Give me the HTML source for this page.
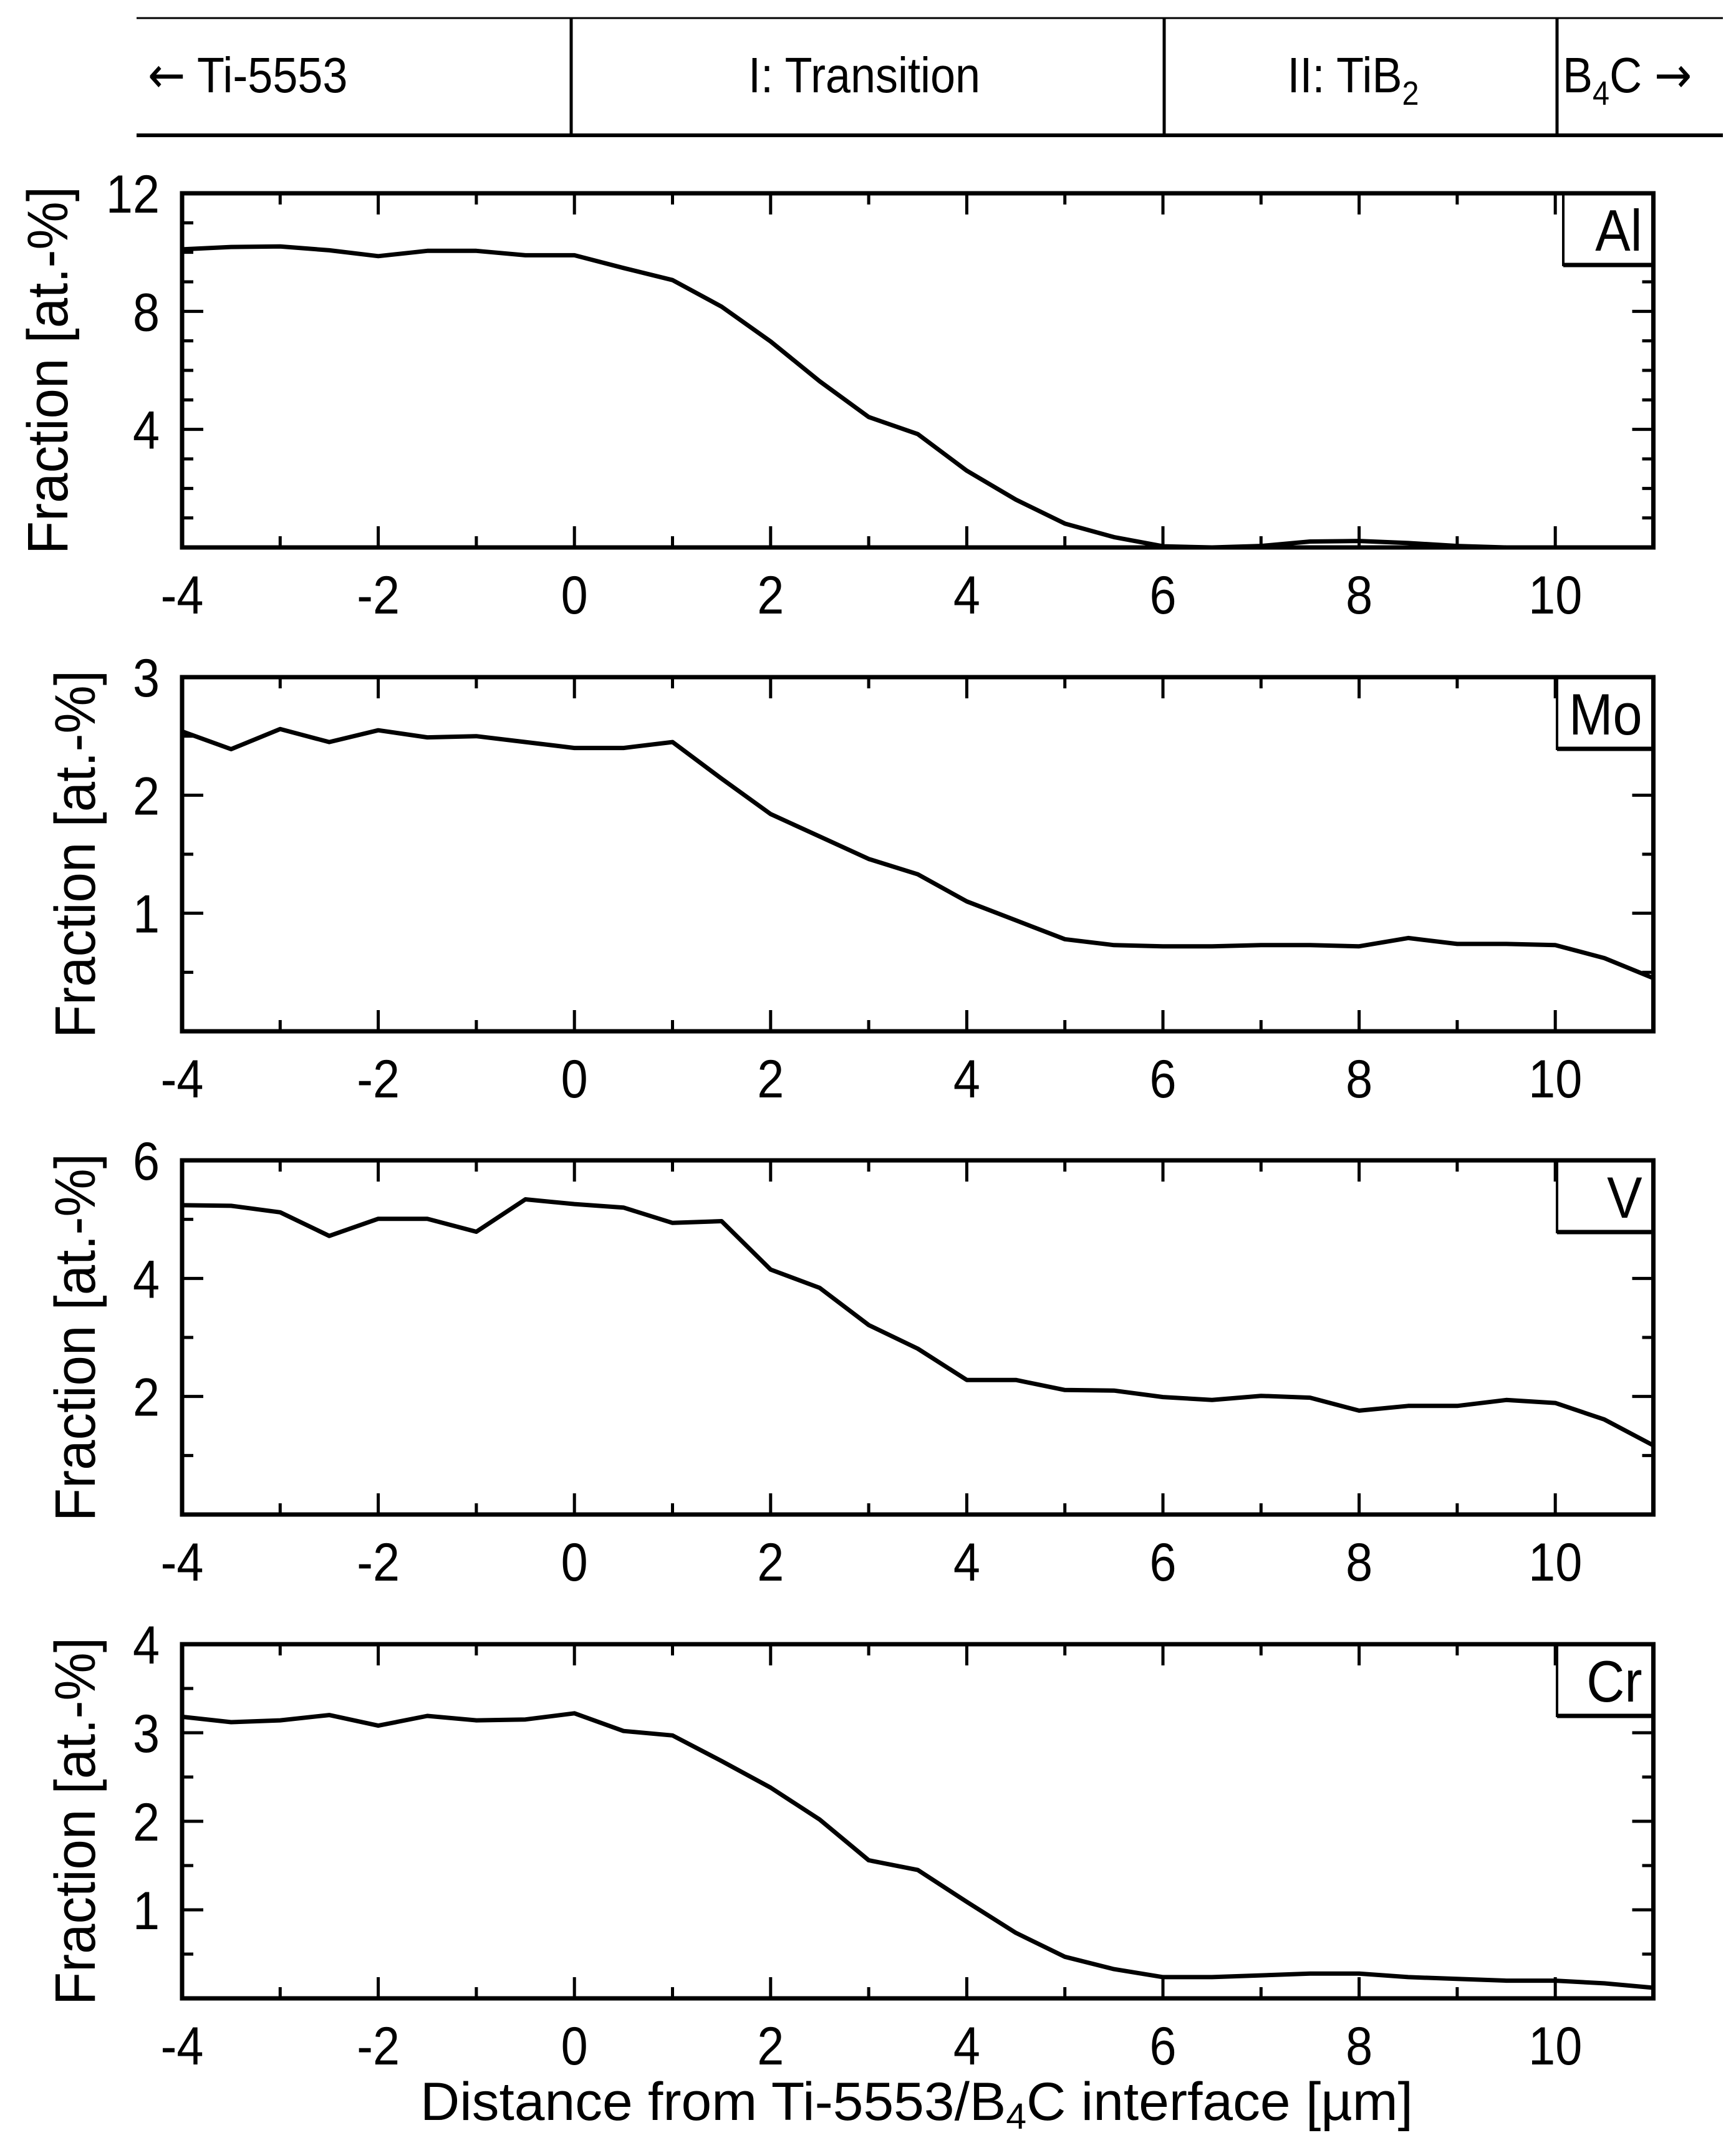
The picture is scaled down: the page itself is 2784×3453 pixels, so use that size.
<!DOCTYPE html>
<html><head><meta charset="utf-8"><style>
html,body{margin:0;padding:0;background:#fff;}
svg{display:block;font-family:"Liberation Sans",Arial,sans-serif;}
</style></head><body>
<svg id="fig" width="2784" height="3453" viewBox="0 0 2784 3453" xmlns="http://www.w3.org/2000/svg">
<rect width="2784" height="3453" fill="#fff"/>
<g>
<line x1="219" y1="29" x2="2763" y2="29" stroke="#000" stroke-width="3"/>
<line x1="219" y1="217" x2="2763" y2="217" stroke="#000" stroke-width="6"/>
<line x1="916" y1="29" x2="916" y2="217" stroke="#000" stroke-width="5"/>
<line x1="1867" y1="29" x2="1867" y2="217" stroke="#000" stroke-width="5"/>
<line x1="2497" y1="29" x2="2497" y2="217" stroke="#000" stroke-width="5"/>
<text transform="translate(237 148) scale(0.9 1)" font-size="80"><tspan font-family="DejaVu Sans">←</tspan> Ti-5553</text>
<text transform="translate(1386 148) scale(0.9 1)" font-size="80" text-anchor="middle">I: Transition</text>
<text transform="translate(2170 148) scale(0.9 1)" font-size="80" text-anchor="middle">II: TiB<tspan font-size="54" dy="20">2</tspan></text>
<text transform="translate(2506 148) scale(0.9 1)" font-size="80">B<tspan font-size="54" dy="20">4</tspan><tspan dy="-20">C </tspan><tspan font-family="DejaVu Sans">→</tspan></text>
</g>
<text x="674" y="3400" font-size="86" textLength="1592" lengthAdjust="spacingAndGlyphs">Distance from Ti-5553/B<tspan font-size="58" dy="14">4</tspan><tspan dy="-14">C interface [µm]</tspan></text>
</svg>
<script>
const xValues = [-4,-3.5,-3,-2.5,-2,-1.5,-1,-0.5,0,0.5,1,1.5,2,2.5,3,3.5,4,4.5,5,5.5,6,6.5,7,7.5,8,8.5,9,9.5,10,10.5,11];
const xTickLabels = [-4,-2,0,2,4,6,8,10];
const alValues = [10.1,10.18,10.2,10.07,9.87,10.05,10.05,9.9,9.9,9.47,9.06,8.16,6.98,5.63,4.42,3.84,2.6,1.62,0.81,0.35,0.04,0.0,0.05,0.2,0.22,0.15,0.05,0.0,0.0,0.0,0.0];
const moValues = [2.54,2.39,2.56,2.45,2.55,2.49,2.50,2.45,2.40,2.40,2.45,2.14,1.84,1.65,1.46,1.33,1.10,0.94,0.78,0.73,0.72,0.72,0.73,0.73,0.72,0.79,0.74,0.74,0.73,0.62,0.45];
const vValues = [5.24,5.23,5.12,4.72,5.01,5.01,4.79,5.34,5.26,5.20,4.94,4.97,4.15,3.84,3.21,2.81,2.28,2.28,2.11,2.10,1.99,1.94,2.01,1.98,1.76,1.84,1.84,1.94,1.89,1.61,1.17];
const crValues = [3.18,3.12,3.14,3.20,3.08,3.19,3.14,3.15,3.22,3.02,2.97,2.68,2.38,2.02,1.56,1.45,1.09,0.74,0.47,0.33,0.24,0.24,0.26,0.28,0.28,0.24,0.22,0.20,0.20,0.17,0.12];
const alTicks = [4,8,12];
const moTicks = [1,2,3];
const vTicks = [2,4,6];
const crTicks = [1,2,3,4];

const NS = "http://www.w3.org/2000/svg";
const svg = document.getElementById('fig');
const X0 = 292, XU = 157.3, XMIN = -4, XMAX = 11;
const xScale = v => X0 + (v - XMIN) * XU;
function mk(tag, attrs, parent) {
  const e = document.createElementNS(NS, tag);
  for (const k in attrs) e.setAttribute(k, attrs[k]);
  parent.appendChild(e);
  return e;
}
const panels = [
  {name:'al', label:'Al', top:310, ymax:12, minor:1, ticks:alTicks, vals:alValues, titleX:108, boxX:2507},
  {name:'mo', label:'Mo', top:1086, ymax:3, minor:0.5, ticks:moTicks, vals:moValues, titleX:152, boxX:2497},
  {name:'v', label:'V', top:1861, ymax:6, minor:1, ticks:vTicks, vals:vValues, titleX:152, boxX:2497},
  {name:'cr', label:'Cr', top:2637, ymax:4, minor:0.5, ticks:crTicks, vals:crValues, titleX:152, boxX:2497}
];
const H = 568;
panels.forEach(p => {
  const g = mk('g', {}, svg);
  
  
  const bottom = p.top + H;
  const yScale = v => bottom - v / p.ymax * H;
  const xr = xScale(XMAX);
  for (let t = XMIN; t <= XMAX; t += 1) {
    const major = (t % 2 === 0);
    const L = major ? 34 : 18;
    const xx = xScale(t);
    mk('line', {x1:xx, y1:bottom, x2:xx, y2:bottom - L, stroke:'#000', 'stroke-width':5}, g);
    mk('line', {x1:xx, y1:p.top, x2:xx, y2:p.top + L, stroke:'#000', 'stroke-width':5}, g);
  }
  xTickLabels.forEach(t => {
    const tl = mk('text', {transform:'translate(' + xScale(t) + ' ' + (bottom + 106) + ') scale(0.9 1)', 'font-size':86, 'text-anchor':'middle'}, g);
    
    
    tl.textContent = String(t);
  });
  const n = Math.round(p.ymax / p.minor);
  for (let i = 1; i < n; i++) {
    const v = i * p.minor;
    const major = p.ticks.indexOf(v) >= 0;
    const L = major ? 34 : 18;
    const yy = yScale(v);
    mk('line', {x1:X0, y1:yy, x2:X0 + L, y2:yy, stroke:'#000', 'stroke-width':5}, g);
    mk('line', {x1:xr, y1:yy, x2:xr - L, y2:yy, stroke:'#000', 'stroke-width':5}, g);
  }
  p.ticks.forEach(t => {
    const tl = mk('text', {transform:'translate(256 ' + (yScale(t) + 31) + ') scale(0.9 1)', 'font-size':86, 'text-anchor':'end'}, g);
    
    
    tl.textContent = String(t);
  });
  const pts = xValues.map((x, i) => xScale(x).toFixed(1) + ',' + yScale(p.vals[i]).toFixed(1)).join(' ');
  const line = mk('polyline', {points:pts, fill:'none', stroke:'#000', 'stroke-width':7, 'stroke-linejoin':'round'}, g);
  
  
  const fr = mk('rect', {x:X0, y:p.top, width:xr - X0, height:H, fill:'none', stroke:'#000', 'stroke-width':7}, g);
  
  
  const bx = mk('rect', {x:p.boxX, y:p.top, width:xr - p.boxX, height:115, fill:'#fff', stroke:'#000', 'stroke-width':4}, g);
  
  
  mk('line', {x1:p.boxX, y1:p.top + 115, x2:xr, y2:p.top + 115, stroke:'#000', 'stroke-width':7}, g);
  mk('line', {x1:X0, y1:p.top, x2:xr, y2:p.top, stroke:'#000', 'stroke-width':7}, g);
  mk('line', {x1:xr, y1:p.top, x2:xr, y2:bottom, stroke:'#000', 'stroke-width':7}, g);
  const lt = mk('text', {transform:'translate(' + (xr - 18) + ' ' + (p.top + 92) + ') scale(0.9 1)', 'font-size':94, 'text-anchor':'end'}, g);
  
  
  lt.textContent = p.label;
  const cy = p.top + H / 2;
  const yt = mk('text', {x:p.titleX, y:cy, 'font-size':92, 'text-anchor':'middle', transform:'rotate(-90 ' + p.titleX + ' ' + cy + ')', textLength:590, lengthAdjust:'spacingAndGlyphs'}, g);
  
  
  yt.textContent = 'Fraction [at.-%]';
});
</script>
</body></html>
